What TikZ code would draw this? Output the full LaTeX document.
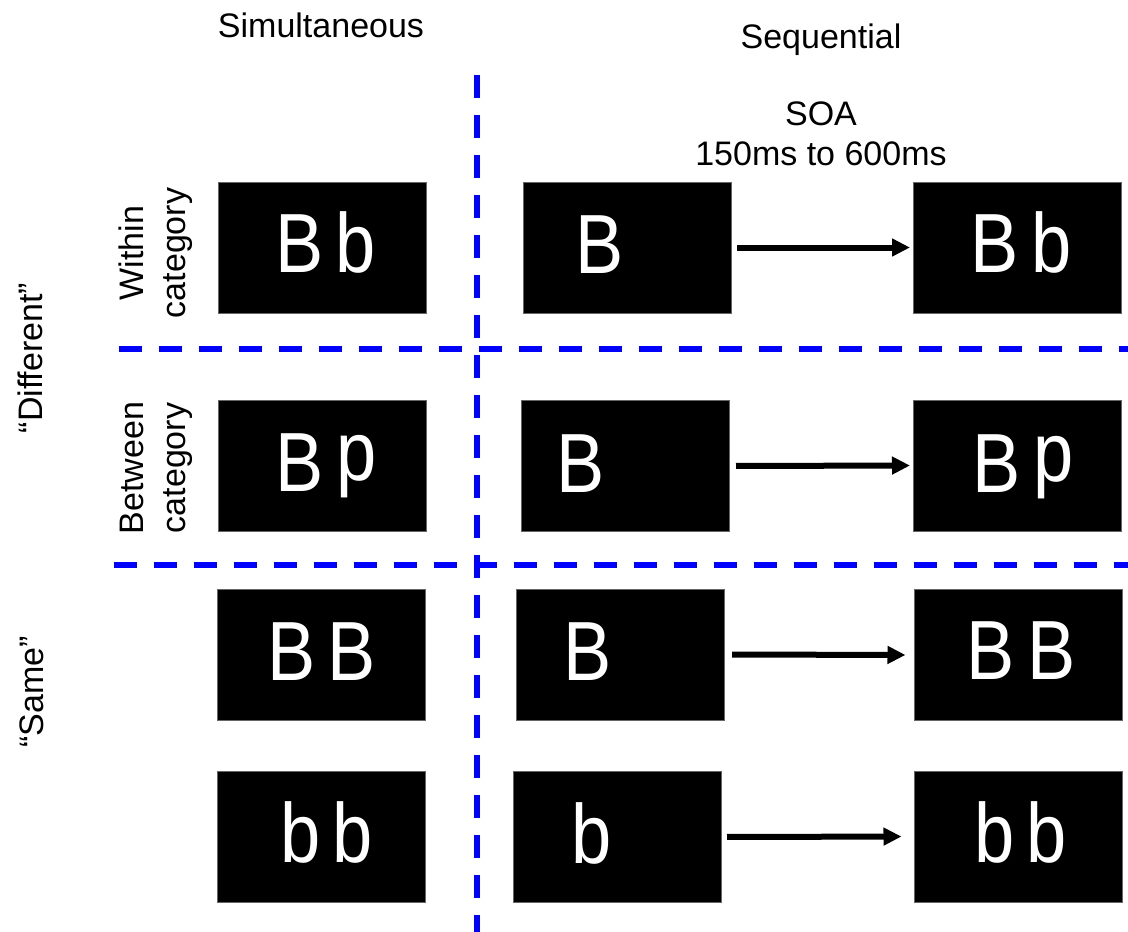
\documentclass[tikz,border=0pt]{standalone}
\usepackage{fontspec}
\setmainfont{Liberation Sans}
\newfontfamily\glyphfont[FakeStretch=0.86]{Liberation Sans}
\usetikzlibrary{arrows.meta}
\tikzset{
  lbl/.style={inner sep=0pt, font=\fontsize{34}{41}\selectfont},
  vlbl/.style={lbl, rotate=90, anchor=base},
  card/.style={rectangle, fill=black, draw=black!60, line width=1pt,
               minimum width=208pt, minimum height=131pt, inner sep=0pt},
  glyphs/.style={inner sep=0pt, anchor=base, text=white,
                 font=\glyphfont\fontsize{84}{88}\selectfont},
  divider/.style={draw=blue, line width=5.5pt, dash pattern=on 23pt off 17pt},
  soa/.style={-{Triangle[length=18pt,width=17pt]}, line width=6pt}
}
\newcommand{\gap}{\kern12pt}
\newcommand{\upp}{\raisebox{0.12em}{p}}
\begin{document}
\begin{tikzpicture}[x=1pt,y=-1pt]
\useasboundingbox (0,0) rectangle (1128,932);

% column and row headings
\node[lbl, anchor=base] (simul) at (321,37) {Simultaneous};
\node[lbl, anchor=base] (seq) at (821,48) {Sequential};
\node[lbl, anchor=base] (soa) at (821,125) {SOA};
\node[lbl, anchor=base] (range) at (821,165) {150ms to 600ms};

\node[vlbl] (diff) at (42,358) {“Different”};
\node[vlbl] (same) at (43,692) {“Same”};
\node[vlbl] (within) at (143,253) {Within};
\node[vlbl] (withincat) at (185,253) {category};
\node[vlbl] (between) at (143,468) {Between};
\node[vlbl] (betweencat) at (185,468) {category};

% dividers
\draw[divider] (477,75) -- (477,932);
\draw[divider] (119,349) -- (1128,349);
\draw[divider] (114,565) -- (1128,565);

% stimulus displays
\node[card] (L1) at (322,247.5) {};
\node[card] (M1) at (627.5,247.5) {};
\node[card] (R1) at (1017.5,247.5) {};
\node[card] (L2) at (322,465.5) {};
\node[card] (M2) at (625.5,466) {};
\node[card] (R2) at (1017.5,465.5) {};
\node[card] (L3) at (321,654.5) {};
\node[card] (M3) at (620.5,654.5) {};
\node[card] (R3) at (1018,655) {};
\node[card] (L4) at (321,836.5) {};
\node[card] (M4) at (617.5,837) {};
\node[card] (R4) at (1018,836.5) {};

% letters
\node[glyphs] (tL1) at (326,272) {B\gap b};
\node[glyphs] (tM1) at (600,273) {B};
\node[glyphs] (tR1) at (1021,272) {B\gap b};
\node[glyphs] (tL2) at (326,491) {B\gap\upp};
\node[glyphs] (tM2) at (581,492) {B};
\node[glyphs] (tR2) at (1023,492) {B\gap\upp};
\node[glyphs] (tL3) at (322,680) {B\gap B};
\node[glyphs] (tM3) at (588,680) {B};
\node[glyphs] (tR3) at (1021,679) {B\gap B};
\node[glyphs] (tL4) at (327,862) {b\gap b};
\node[glyphs] (tM4) at (592,863) {b};
\node[glyphs] (tR4) at (1021,862) {b\gap b};

% SOA arrows
\draw[soa, shorten <=5pt, shorten >=3pt] (M1.east) -- (R1.west);
\draw[soa, shorten <=6pt, shorten >=3pt] (M2.east) -- (R2.west);
\draw[soa, shorten <=7pt, shorten >=8pt] (M3.east) -- (R3.west);
\draw[soa, shorten <=5pt, shorten >=12pt] (M4.east) -- (R4.west);
\end{tikzpicture}
\end{document}
